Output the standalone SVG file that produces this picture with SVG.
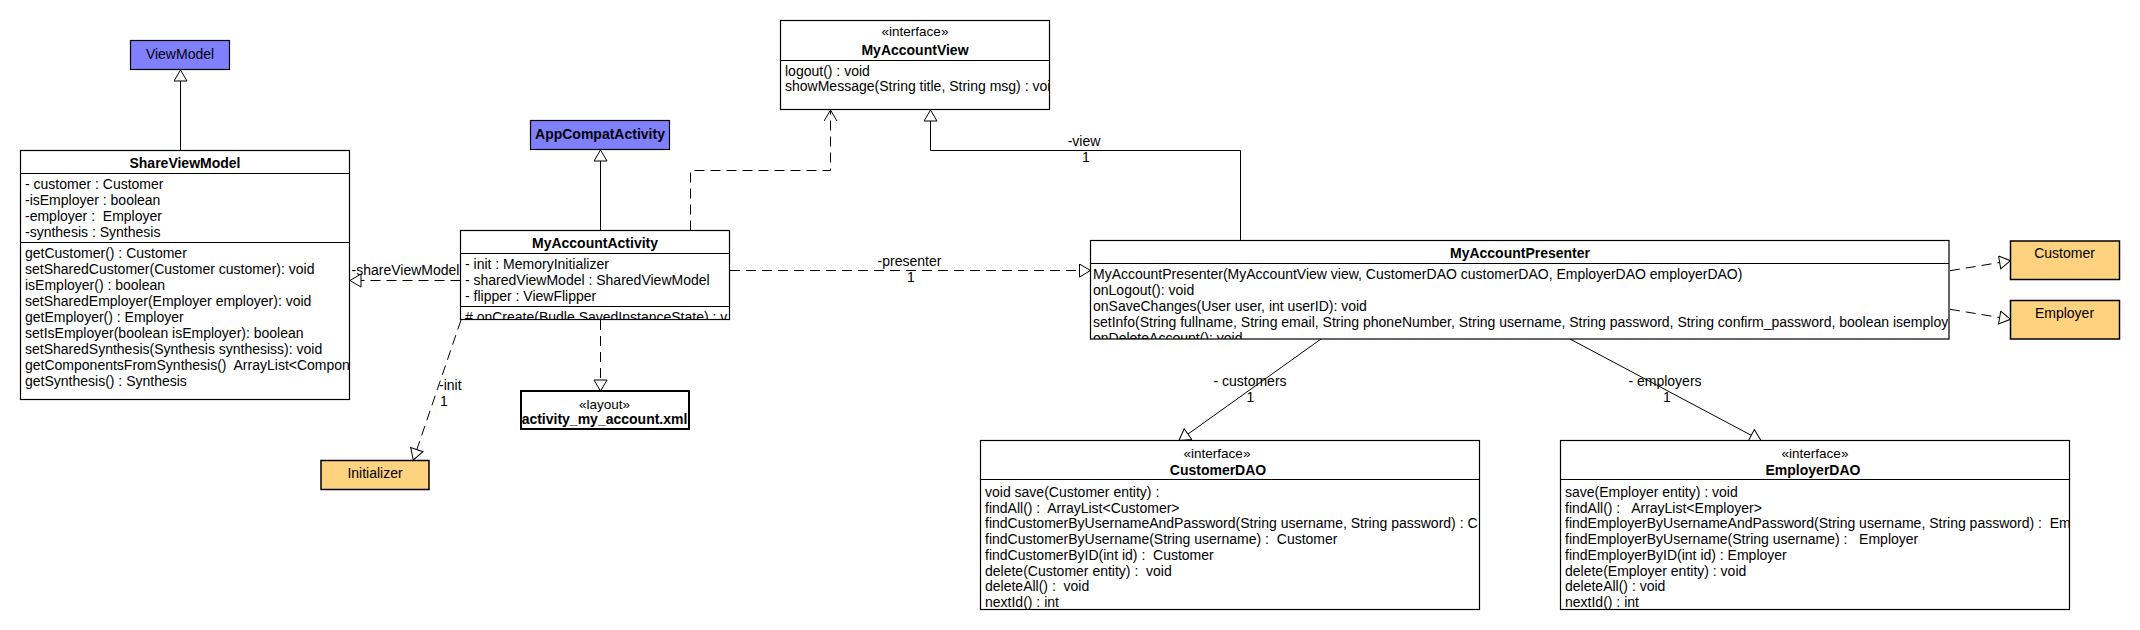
<svg xmlns="http://www.w3.org/2000/svg" width="2140" height="630" viewBox="0 0 2140 630">
<style>
.bg{fill:#fff}
.box{fill:#fff;stroke:#000;stroke-width:1.2}
.blue{fill:#8080ff;stroke:#000;stroke-width:1.2}
.org{fill:#ffd280;stroke:#000;stroke-width:1.5}
.thick{fill:#fff;stroke:#000;stroke-width:2}
.sep{stroke:#000;stroke-width:1.2;fill:none}
text{font-family:"Liberation Sans",Arial,sans-serif;font-size:14px;fill:#000;white-space:pre}
.b{font-weight:bold}
.c{text-anchor:middle}
.st{font-size:13.5px}
.ln{stroke:#000;stroke-width:1;fill:none}
.d{stroke-dasharray:10,6}
.tri{marker-end:url(#tri)}
.open{marker-end:url(#open)}
</style>
<defs>
<marker id="tri" markerUnits="userSpaceOnUse" markerWidth="14" markerHeight="16" viewBox="0 0 14 16" refX="12" refY="7" orient="auto">
<path d="M1,0.5 L12,7 L1,13.5 Z" fill="#fff" stroke="#000" stroke-width="1" stroke-dasharray="none"/>
</marker>
<marker id="open" markerUnits="userSpaceOnUse" markerWidth="14" markerHeight="16" viewBox="0 0 14 16" refX="12" refY="7" orient="auto">
<path d="M1,0.5 L12,7 L1,13.5" fill="none" stroke="#000" stroke-width="1" stroke-dasharray="none"/>
</marker>
<clipPath id="cSVM"><rect x="20.5" y="150.5" width="329" height="249"/></clipPath>
<clipPath id="cMAA"><rect x="460.5" y="230.5" width="269" height="89"/></clipPath>
<clipPath id="cMAV"><rect x="780.5" y="20.5" width="269" height="89"/></clipPath>
<clipPath id="cMAP"><rect x="1090.5" y="240.5" width="858.5" height="98.5"/></clipPath>
<clipPath id="cCD"><rect x="980.5" y="440.5" width="499" height="169"/></clipPath>
<clipPath id="cED"><rect x="1560.5" y="440.5" width="509" height="169"/></clipPath>
</defs>
<rect class="bg" x="0" y="0" width="2140" height="630"/>

<g id="connectors">
<path class="ln tri" d="M180.5,150.5 L180.5,70"/>
<path class="ln tri" d="M600.5,230.5 L600.5,150"/>
<path class="ln d tri" d="M460.5,280.5 L350,280.5"/>
<text x="405.5" y="275" class="c">-shareViewModel</text>
<path class="ln d tri" d="M461,320 L413.3,460"/>
<text x="439" y="390">-init</text>
<text x="440" y="406">1</text>
<path class="ln d tri" d="M600.5,320 L600.5,391"/>
<path class="ln d open" d="M690.5,230.5 L690.5,170.5 L830.5,170.5 L830.5,110"/>
<path class="ln d tri" d="M730,270.5 L1090.5,270.5"/>
<text x="909.5" y="266" class="c">-presenter</text>
<text x="911" y="282" class="c">1</text>
<path class="ln tri" d="M1240.5,240.5 L1240.5,150.5 L930.5,150.5 L930.5,110"/>
<text x="1084" y="146" class="c">-view</text>
<text x="1086" y="162" class="c">1</text>
<path class="ln d tri" d="M1950,270.7 L2010.5,260.7"/>
<path class="ln d tri" d="M1950,309.3 L2010.5,319.3"/>
<path class="ln tri" d="M1321,339 L1179,440.5"/>
<text x="1250" y="386" class="c">- customers</text>
<text x="1250.5" y="402" class="c">1</text>
<path class="ln tri" d="M1570,339 L1761,440.5"/>
<text x="1665" y="386" class="c">- employers</text>
<text x="1667" y="402" class="c">1</text>
</g>

<g id="ViewModel">
<rect class="blue" x="130.5" y="40.5" width="99" height="29"/>
<text x="180" y="59" class="c">ViewModel</text>
</g>

<g id="AppCompatActivity">
<rect class="blue" x="530.5" y="120.5" width="139" height="29"/>
<text x="600" y="139" class="c b">AppCompatActivity</text>
</g>

<g id="ShareViewModel">
<rect class="box" x="20.5" y="150.5" width="329" height="249"/>
<line class="sep" x1="20.5" y1="173.5" x2="349.5" y2="173.5"/>
<line class="sep" x1="20.5" y1="242.5" x2="349.5" y2="242.5"/>
<text x="185" y="168" class="c b">ShareViewModel</text>
<g clip-path="url(#cSVM)">
<text x="25" y="189">- customer : Customer</text>
<text x="25" y="205">-isEmployer : boolean</text>
<text x="25" y="221">-employer :  Employer</text>
<text x="25" y="237">-synthesis : Synthesis</text>
<text x="25" y="258">getCustomer() : Customer</text>
<text x="25" y="274">setSharedCustomer(Customer customer): void</text>
<text x="25" y="290">isEmployer() : boolean</text>
<text x="25" y="306">setSharedEmployer(Employer employer): void</text>
<text x="25" y="322">getEmployer() : Employer</text>
<text x="25" y="338">setIsEmployer(boolean isEmployer): boolean</text>
<text x="25" y="354">setSharedSynthesis(Synthesis synthesiss): void</text>
<text x="25" y="370">getComponentsFromSynthesis()  ArrayList&lt;Compon</text>
<text x="25" y="386">getSynthesis() : Synthesis</text>
</g>
</g>

<g id="MyAccountActivity">
<rect class="box" x="460.5" y="230.5" width="269" height="89"/>
<line class="sep" x1="460.5" y1="253.5" x2="729.5" y2="253.5"/>
<line class="sep" x1="460.5" y1="306.5" x2="729.5" y2="306.5"/>
<text x="595" y="248" class="c b">MyAccountActivity</text>
<g clip-path="url(#cMAA)">
<text x="465" y="269">- init : MemoryInitializer</text>
<text x="465" y="285">- sharedViewModel : SharedViewModel</text>
<text x="465" y="301">- flipper : ViewFlipper</text>
<text x="465" y="322"># onCreate(Budle SavedInstanceState) : v</text>
</g>
</g>

<g id="MyAccountView">
<rect class="box" x="780.5" y="20.5" width="269" height="89"/>
<line class="sep" x1="780.5" y1="60.5" x2="1049.5" y2="60.5"/>
<text x="915" y="36" class="c st">«interface»</text>
<text x="915" y="55" class="c b">MyAccountView</text>
<g clip-path="url(#cMAV)">
<text x="785" y="76">logout() : void</text>
<text x="785" y="91">showMessage(String title, String msg) : voi</text>
</g>
</g>

<g id="Initializer">
<rect class="org" x="321" y="460.5" width="108" height="29"/>
<text x="375" y="478" class="c">Initializer</text>
</g>

<g id="activity_my_account">
<rect class="thick" x="521" y="391" width="168" height="38"/>
<text x="604.5" y="409" class="c st">«layout»</text>
<text x="604.5" y="424" class="c b">activity_my_account.xml</text>
</g>

<g id="MyAccountPresenter">
<rect class="box" x="1090.5" y="240.5" width="858.5" height="98.5"/>
<line class="sep" x1="1090.5" y1="263.5" x2="1949" y2="263.5"/>
<text x="1520" y="258" class="c b">MyAccountPresenter</text>
<g clip-path="url(#cMAP)">
<text x="1093" y="279">MyAccountPresenter(MyAccountView view, CustomerDAO customerDAO, EmployerDAO employerDAO)</text>
<text x="1093" y="295">onLogout(): void</text>
<text x="1093" y="311">onSaveChanges(User user, int userID): void</text>
<text x="1093" y="327">setInfo(String fullname, String email, String phoneNumber, String username, String password, String confirm_password, boolean isemploy</text>
<text x="1093" y="343">onDeleteAccount(): void</text>
</g>
</g>

<g id="Customer">
<rect class="org" x="2010.5" y="241" width="109" height="38.5"/>
<text x="2064.5" y="258" class="c">Customer</text>
</g>

<g id="Employer">
<rect class="org" x="2010.5" y="300.5" width="109" height="38.5"/>
<text x="2064.5" y="318" class="c">Employer</text>
</g>

<g id="CustomerDAO">
<rect class="box" x="980.5" y="440.5" width="499" height="169"/>
<line class="sep" x1="980.5" y1="479.5" x2="1479.5" y2="479.5"/>
<text x="1217" y="458" class="c st">«interface»</text>
<text x="1218" y="474.5" class="c b">CustomerDAO</text>
<g clip-path="url(#cCD)">
<text x="985" y="497">void save(Customer entity) :</text>
<text x="985" y="512.7">findAll() :  ArrayList&lt;Customer&gt;</text>
<text x="985" y="528.4">findCustomerByUsernameAndPassword(String username, String password) : C</text>
<text x="985" y="544.1">findCustomerByUsername(String username) :  Customer</text>
<text x="985" y="559.8">findCustomerByID(int id) :  Customer</text>
<text x="985" y="575.5">delete(Customer entity) :  void</text>
<text x="985" y="591.2">deleteAll() :  void</text>
<text x="985" y="606.9">nextId() : int</text>
</g>
</g>

<g id="EmployerDAO">
<rect class="box" x="1560.5" y="440.5" width="509" height="169"/>
<line class="sep" x1="1560.5" y1="479.5" x2="2069.5" y2="479.5"/>
<text x="1815" y="458" class="c st">«interface»</text>
<text x="1813" y="474.5" class="c b">EmployerDAO</text>
<g clip-path="url(#cED)">
<text x="1565" y="497">save(Employer entity) : void</text>
<text x="1565" y="512.7">findAll() :   ArrayList&lt;Employer&gt;</text>
<text x="1565" y="528.4">findEmployerByUsernameAndPassword(String username, String password) :  Em</text>
<text x="1565" y="544.1">findEmployerByUsername(String username) :   Employer</text>
<text x="1565" y="559.8">findEmployerByID(int id) : Employer</text>
<text x="1565" y="575.5">delete(Employer entity) : void</text>
<text x="1565" y="591.2">deleteAll() : void</text>
<text x="1565" y="606.9">nextId() : int</text>
</g>
</g>
</svg>
